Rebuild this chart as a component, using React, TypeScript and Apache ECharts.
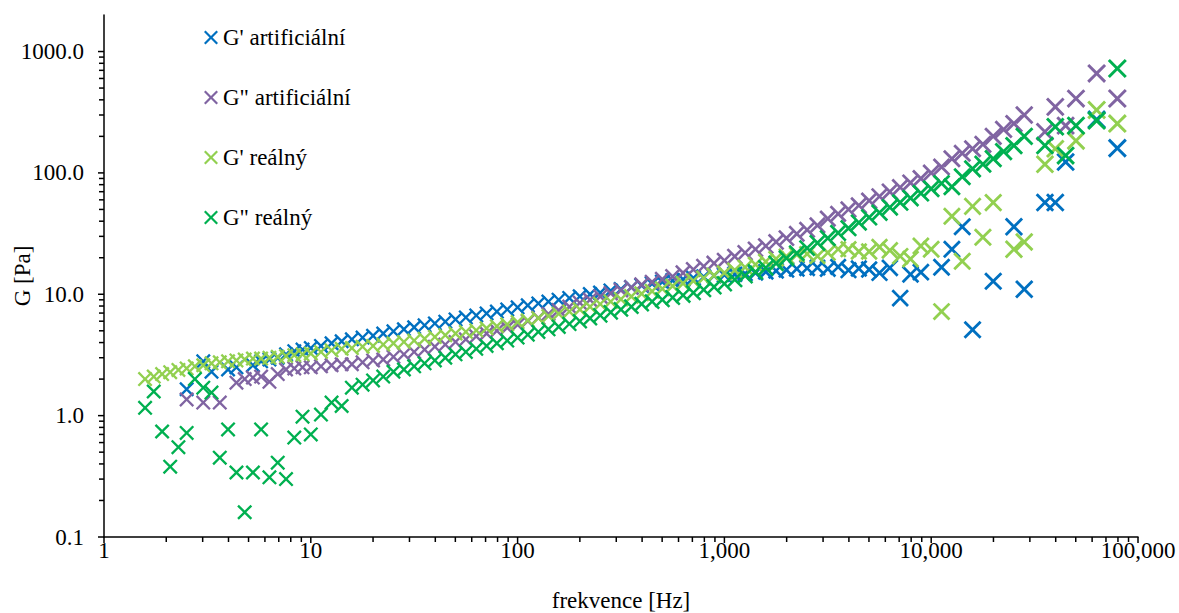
import React, { useEffect, useRef } from "react";
import * as echarts from "echarts";

// Frequencies [Hz]
const freq = [
  1.58, 1.74, 1.91, 2.09, 2.29, 2.51, 2.75, 3.02, 3.31, 3.63,
  3.98, 4.37, 4.79, 5.25, 5.75, 6.31, 6.92, 7.59, 8.32, 9.12,
  10, 11.2, 12.6, 14.1, 15.8, 17.8, 20, 22.4, 25.1, 28.2,
  31.6, 35.5, 39.8, 44.7, 50.1, 56.2, 63.1, 70.8, 79.4, 89.1,
  100, 112, 126, 141, 158, 178, 200, 224, 251, 282,
  316, 355, 398, 447, 501, 562, 631, 708, 794, 891,
  1000, 1122, 1259, 1413, 1585, 1778, 1995, 2239, 2512, 2818,
  3162, 3548, 3981, 4467, 5012, 5623, 6310, 7079, 7943, 8913,
  10000, 11220, 12590, 14130, 15850, 17780, 19950, 22390, 25120, 28180,
  31620, 35480, 39810, 44670, 50120, 56230, 63100, 70790, 79430,
];

// G' artificiální
const gPrimeArt = [
  null, null, null, null, null, 1.65, null, 2.8, 2.3, null,
  2.4, 2.5, null, 2.6, 2.8, 2.9, 3.0, 3.2, 3.4, 3.5,
  3.6, 3.75, 3.95, 4.1, 4.25, 4.4, 4.55, 4.75, 4.95, 5.15,
  5.35, 5.55, 5.75, 5.95, 6.2, 6.45, 6.7, 6.95, 7.2, 7.5,
  7.8, 8.1, 8.4, 8.7, 9.0, 9.3, 9.6, 10.0, 10.3, 10.7,
  11.0, 11.4, 11.8, 12.2, 12.6, 13.0, 13.3, 13.6, 13.9, 14.2,
  14.4, 14.6, 14.8, 15.0, 15.3, 15.6, 15.9, 16.2, 16.4, 16.6,
  16.2, 16.8, 15.8, 16.3, 16.0, 15.0, 16.5, 9.3, 14.6, 15.2,
  null, 16.7, 23.5, 36, 5.1, null, 12.8, null, 36, 11,
  null, 57, 57, 123, null, null, 275, null, 160,
];

// G" artificiální
const gDoublePrimeArt = [
  null, null, null, null, null, 1.36, null, 1.28, null, 1.28,
  null, 1.87, 2.0, 2.06, 2.1, 1.9, 2.2, 2.4, 2.45, 2.5,
  2.5, 2.55, 2.6, 2.65, 2.65, 2.75, 2.85, 2.9, 3.05, 3.2,
  3.35, 3.5, 3.7, 3.85, 4.05, 4.25, 4.5, 4.75, 5.0, 5.3,
  5.6, 6.0, 6.4, 6.9, 7.4, 7.9, 8.5, 9.0, 9.6, 10.2,
  10.8, 11.4, 12.0, 12.6, 13.3, 14.0, 15.0, 16.0, 17.0, 18.0,
  19.0, 20.5, 22, 23.5, 25, 27, 29, 31.5, 34, 37,
  42, 46, 50, 54, 59, 64, 70, 76, 83, 90,
  100, 112, 131, 145, 158, 172, 200, 228, 255, 300,
  null, 218, 350, 245, 410, null, 660, null, 410,
];

// G' reálný
const gPrimeReal = [
  2.0, 2.1, 2.2, 2.28, 2.38, 2.45, 2.55, 2.6, 2.7, 2.75,
  2.8, 2.85, 2.9, 2.95, 2.95, 3.0, 3.05, 3.1, 3.15, 3.2,
  3.25, 3.35, 3.45, 3.55, 3.6, 3.7, 3.75, 3.85, 3.95, 4.05,
  4.15, 4.3, 4.45, 4.6, 4.75, 4.9, 5.05, 5.25, 5.45, 5.65,
  5.9, 6.1, 6.35, 6.6, 6.9, 7.2, 7.5, 7.9, 8.3, 8.7,
  9.1, 9.6, 10.1, 10.6, 11.1, 11.7, 12.3, 12.9, 13.6, 14.3,
  15.0, 15.8, 16.7, 17.6, 18.6, 19.6, 20.5, 21.2, 21.5, 20.6,
  22, 23.5, 23.5, 22.5, 22.5, 24.5, 23, 20.6, 19.5, 25,
  23.5, 7.2, 44, 18.7, 53, 29.5, 57, null, 23.5, 27,
  null, 118, 158, null, 184, null, 330, null, 255,
];

// G" reálný
const gDoublePrimeReal = [
  1.16, 1.58, 0.74, 0.38, 0.55, 0.72, 2.0, 1.7, 1.55, 0.45,
  0.77, 0.34, 0.16, 0.34, 0.77, 0.31, 0.41, 0.30, 0.66, 0.98,
  0.70, 1.02, 1.28, 1.2, 1.7, 1.8, 1.95, 2.1, 2.3, 2.4,
  2.55, 2.7, 2.85, 3.0, 3.2, 3.35, 3.55, 3.75, 3.95, 4.15,
  4.4, 4.65, 4.9, 5.15, 5.4, 5.7, 6.0, 6.35, 6.7, 7.1,
  7.5, 7.9, 8.3, 8.7, 9.0, 9.4, 9.8, 10.3, 10.9, 11.5,
  12.2, 13.2, 14.2, 15.3, 16.5, 18.0, 19.8, 21.8, 24.0, 26.5,
  29, 32, 35, 39, 43, 47, 52, 57, 62, 68,
  74, 82, 77, 93, 108, 118, 131, 150, 168, 200,
  null, 168, 240, 139, 245, null, 270, null, 725,
];

const seriesNames = ["G' artificiální", 'G" artificiální', "G' reálný", 'G" reálný'];
const seriesColors = ["#0070C0", "#8064A2", "#92D050", "#00B050"];
const seriesValues = [gPrimeArt, gDoublePrimeArt, gPrimeReal, gDoublePrimeReal];

const xMajorTicks = [1, 10, 100, 1000, 10000, 100000];
const yMajorTicks = [0.1, 1, 10, 100, 1000];
const minorSteps = [2, 3, 4, 5, 6, 7, 8, 9];
const X_MIN = 1;
const X_MAX = 100000;
const Y_MIN = 0.1;
const Y_MAX = 2000;

const CROSS =
  "path://M0,11 L11,0 L50,39 L89,0 L100,11 L61,50 L100,89 L89,100 L50,61 L11,100 L0,89 L39,50 Z";

const FONT = "'Liberation Serif', 'Times New Roman', serif";

function isPow10(v: number) {
  const l = Math.log10(v);
  return Math.abs(l - Math.round(l)) < 1e-6;
}

export default function App() {
  const ref = useRef<HTMLDivElement>(null);

  useEffect(() => {
    if (!ref.current) return;
    const chart = echarts.init(ref.current, undefined, { renderer: "svg" });

    const tickData: number[][] = [];
    xMajorTicks.forEach((d, i) => {
      tickData.push([d, Y_MIN, 0, 1]);
      if (i < xMajorTicks.length - 1) minorSteps.forEach((m) => tickData.push([d * m, Y_MIN, 0, 0]));
    });
    yMajorTicks.forEach((d, i) => {
      tickData.push([X_MIN, d, 1, 1]);
      if (i < yMajorTicks.length - 1) minorSteps.forEach((m) => tickData.push([X_MIN, d * m, 1, 0]));
    });

    const scatterSeries = seriesNames.map((name, s) => ({
      name,
      type: "scatter",
      symbol: CROSS,
      symbolSize: (val: number[]) => 15 + 1.4 * Math.max(0, Math.log10(val[0]) - 2),
      itemStyle: { color: seriesColors[s], opacity: 1 },
      data: freq
        .map((f, i) => [f, seriesValues[s][i]])
        .filter((p) => p[1] !== null && p[1] !== undefined),
    }));

    chart.setOption({
      animation: false,
      backgroundColor: "#ffffff",
      textStyle: { fontFamily: FONT },
      grid: {
        left: 104,
        right: 41,
        top: 15,
        bottom: 76,
        containLabel: false,
        outerBoundsMode: "none",
      },
      legend: {
        data: seriesNames,
        orient: "vertical",
        left: 199,
        top: 21,
        itemGap: 37,
        itemWidth: 14,
        itemHeight: 14,
        textStyle: { fontSize: 23, fontFamily: FONT, color: "#000" },
      },
      xAxis: {
        type: "log",
        logBase: 10,
        min: X_MIN,
        max: X_MAX,
        name: "frekvence [Hz]",
        nameLocation: "middle",
        nameGap: 52,
        nameMoveOverlap: false,
        nameTextStyle: { fontSize: 23, fontFamily: FONT, color: "#000" },
        axisLine: { show: true, lineStyle: { color: "#000", width: 1.5 } },
        axisTick: { show: false },
        splitLine: { show: false },
        axisLabel: {
          margin: 2,
          fontSize: 23,
          fontFamily: FONT,
          color: "#000",
          formatter: (v: number) => (isPow10(v) ? Math.round(v).toLocaleString("en-US") : ""),
        },
      },
      yAxis: {
        type: "log",
        logBase: 10,
        min: Y_MIN,
        max: Y_MAX,
        name: "G [Pa]",
        nameLocation: "middle",
        nameGap: 70,
        nameMoveOverlap: false,
        nameTextStyle: { fontSize: 23, fontFamily: FONT, color: "#000" },
        axisLine: { show: true, lineStyle: { color: "#000", width: 1.5 } },
        axisTick: { show: false },
        splitLine: { show: false },
        axisLabel: {
          margin: 20,
          fontSize: 23,
          fontFamily: FONT,
          color: "#000",
          formatter: (v: number) => (isPow10(v) && v <= 1000 ? v.toFixed(1) : ""),
        },
      },
      series: [
        ...scatterSeries,
        {
          type: "custom",
          name: "ticks",
          silent: true,
          clip: false,
          z: 10,
          encode: { x: 0, y: 1 },
          data: tickData,
          renderItem: (params: any, api: any) => {
            const axis = api.value(2);
            const major = api.value(3);
            const len = major ? 6 : 5;
            if (axis === 0) {
              const p = api.coord([api.value(0), Y_MIN]);
              return {
                type: "line",
                shape: { x1: p[0], y1: p[1], x2: p[0], y2: p[1] + len },
                style: { stroke: "#000", lineWidth: 1.5 },
              };
            }
            const p = api.coord([X_MIN, api.value(1)]);
            return {
              type: "line",
              shape: { x1: p[0] - len, y1: p[1], x2: p[0], y2: p[1] },
              style: { stroke: "#000", lineWidth: 1.5 },
            };
          },
        },
      ],
    });

    return () => chart.dispose();
  }, []);

  return (
    <div
      ref={ref}
      style={{ position: "fixed", left: 0, top: 0, width: 1179, height: 613 }}
    />
  );
}
